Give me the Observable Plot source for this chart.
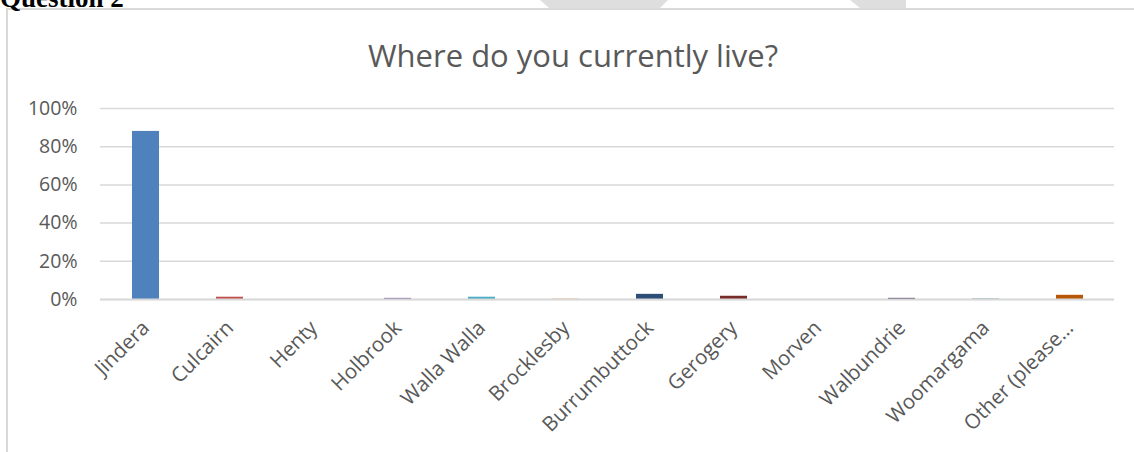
<!DOCTYPE html>
<html>
<head>
<meta charset="utf-8">
<script src="https://cdn.jsdelivr.net/npm/d3@7"></script>
<script src="https://cdn.jsdelivr.net/npm/@observablehq/plot@0.6"></script>
<style>
  html, body { margin: 0; padding: 0; background: #fff; }
  #page { position: relative; width: 1134px; height: 452px; overflow: hidden; }
  #q { position: absolute; left: 0px; top: -17px; line-height: 28px; font: bold 27px "Liberation Serif", serif; color: #000; white-space: nowrap; }
  #frame { position: absolute; left: 6px; top: 8px; width: 1300px; height: 600px; border: 2px solid #d9d9d9; box-sizing: border-box; }
  .wm { position: absolute; top: 0; height: 9px; background: #dedede; }
  #title { position: absolute; left: 6px; width: 1134px; top: 34px; text-align: center; font: 31px "Open Sans", sans-serif; color: #595959; }
  #chart { position: absolute; left: 0; top: 0; }
  #chart svg g.yaxis text { font-size: 19.5px; }
  #chart svg g.xaxis text { font-size: 20.5px; }
</style>
</head>
<body>
<div id="page">
  <div class="wm" style="left:540px;width:128px;clip-path:polygon(0 0,100% 0,93% 100%,8% 100%);"></div>
  <div class="wm" style="left:850px;width:56px;clip-path:polygon(0 0,100% 0,100% 100%,20% 100%);"></div>
  <div id="frame"></div>
  <div id="q">Question 2</div>
  <div id="title">Where do you currently live?</div>
  <div id="chart"></div>
</div>
<script>
const categories = ["Jindera","Culcairn","Henty","Holbrook","Walla Walla","Brocklesby","Burrumbuttock","Gerogery","Morven","Walbundrie","Woomargama","Other (please\u2026"];
const shares = [0.88, 0.012, 0, 0.006, 0.012, 0.002, 0.027, 0.017, 0, 0.006, 0.002, 0.022];
const colors = ["#4F81BD","#C0504D","#9BBB59","#8064A2","#4BACC6","#F79646","#2C4D75","#772C2A","#5F7530","#4D3B62","#276A7C","#B65708"];
const yTicks = [0, 0.2, 0.4, 0.6, 0.8, 1.0];

const data = categories.map((c, i) => ({category: c, share: shares[i]}));

const chart = Plot.plot({
  width: 1134,
  height: 452,
  marginLeft: 100,
  marginRight: 20,
  marginTop: 108,
  marginBottom: 153,
  style: {fontFamily: "'Open Sans', sans-serif", fontSize: "19px", color: "#595959", background: "transparent"},
  x: {domain: categories, paddingInner: 0.68, paddingOuter: 0.34, label: null},
  y: {domain: [0, 1], label: null},
  color: {domain: categories, range: colors},
  marks: [
    Plot.gridY(yTicks, {stroke: "#d9d9d9", strokeOpacity: 1, strokeWidth: 1.5}),
    Plot.axisY({ticks: yTicks, tickFormat: d3.format(".0%"), tickSize: 0, tickPadding: 23, label: null, fill: "#595959", className: "yaxis"}),
    Plot.barY(data, {x: "category", y: "share", fill: "category"}),
    Plot.ruleY([0], {stroke: "#d9d9d9", strokeWidth: 2}),
    Plot.axisX({tickSize: 0, tickPadding: 25, tickRotate: -45, label: null, fill: "#595959", className: "xaxis"})
  ]
});
document.getElementById("chart").appendChild(chart);
</script>
</body>
</html>
